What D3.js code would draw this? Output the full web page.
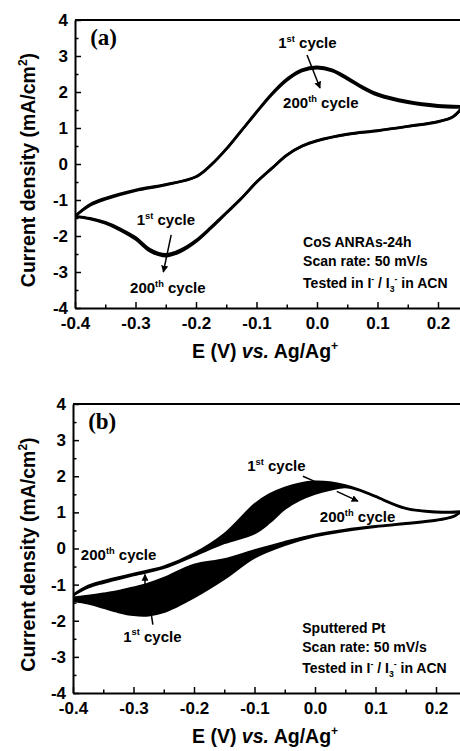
<!DOCTYPE html>
<html lang="en">
<head>
<meta charset="UTF-8" />
<title>CV 200 cycles</title>
<style>
  * { margin: 0; padding: 0; }
  body { background: #fff; }
  svg text { font-family: "Liberation Sans", Arial, sans-serif; font-weight: bold; fill: #000; }
</style>
</head>
<body>
<svg id="chart" width="460" height="751"></svg>
<script src="https://d3js.org/d3.v7.min.js"></script>
<script>
// ---- panel (a): CoS ANRAs-24h ----
const xA_ox = [-0.4, -0.375, -0.35, -0.3, -0.25, -0.2, -0.175, -0.15, -0.125, -0.1, -0.075, -0.05, -0.025, 0.0, 0.025, 0.05, 0.075, 0.1, 0.15, 0.2, 0.24];
const yA_ox1 = [-1.45, -1.12, -0.95, -0.72, -0.57, -0.35, -0.02, 0.42, 0.93, 1.45, 1.95, 2.36, 2.62, 2.7, 2.62, 2.4, 2.15, 1.95, 1.74, 1.63, 1.6];
const yA_ox200 = [-1.45, -1.15, -0.98, -0.74, -0.58, -0.36, -0.03, 0.41, 0.92, 1.43, 1.92, 2.32, 2.58, 2.66, 2.58, 2.36, 2.11, 1.91, 1.7, 1.59, 1.57];
const xA_red = [0.24, 0.225, 0.2, 0.15, 0.1, 0.05, 0.0, -0.025, -0.05, -0.075, -0.1, -0.125, -0.15, -0.175, -0.2, -0.225, -0.25, -0.275, -0.3, -0.325, -0.35, -0.375, -0.4];
const yA_red1 = [1.58, 1.32, 1.18, 1.05, 0.93, 0.83, 0.65, 0.5, 0.25, -0.12, -0.5, -0.95, -1.35, -1.75, -2.12, -2.38, -2.51, -2.38, -2.04, -1.8, -1.62, -1.51, -1.45];
const yA_red200 = [1.56, 1.31, 1.17, 1.04, 0.92, 0.82, 0.64, 0.49, 0.24, -0.13, -0.51, -0.96, -1.37, -1.78, -2.16, -2.43, -2.56, -2.43, -2.09, -1.84, -1.65, -1.53, -1.46];

// ---- panel (b): sputtered Pt ----
const xB_ox = [-0.4, -0.375, -0.35, -0.3, -0.25, -0.2, -0.15, -0.1, -0.075, -0.05, -0.025, 0.0, 0.025, 0.05, 0.075, 0.1, 0.15, 0.2, 0.24];
const yB_ox1 = [-1.28, -1.03, -0.9, -0.7, -0.5, -0.14, 0.4, 1.22, 1.5, 1.68, 1.8, 1.85, 1.83, 1.75, 1.62, 1.45, 1.12, 1.02, 1.03];
const yB_ox200 = [-1.3, -1.08, -0.95, -0.74, -0.54, -0.2, 0.15, 0.42, 0.72, 1.1, 1.35, 1.52, 1.63, 1.7, 1.6, 1.43, 1.1, 1.0, 1.0];
const xB_red = [0.24, 0.228, 0.2, 0.15, 0.1, 0.05, 0.0, -0.05, -0.1, -0.15, -0.2, -0.25, -0.275, -0.3, -0.325, -0.35, -0.375, -0.4];
const yB_red200 = [1.0, 0.89, 0.79, 0.7, 0.62, 0.52, 0.38, 0.18, -0.05, -0.3, -0.45, -0.82, -0.97, -1.08, -1.18, -1.25, -1.31, -1.36];
const yB_red1 = [1.0, 0.87, 0.77, 0.68, 0.6, 0.49, 0.34, 0.1, -0.25, -0.84, -1.35, -1.76, -1.85, -1.84, -1.76, -1.64, -1.52, -1.45];

const xTicks = [-0.4, -0.3, -0.2, -0.1, 0.0, 0.1, 0.2];
const xMinor = [-0.35, -0.25, -0.15, -0.05, 0.05, 0.15];
const yTicks = [-4, -3, -2, -1, 0, 1, 2, 3, 4];
const yMinor = [-3.5, -2.5, -1.5, -0.5, 0.5, 1.5, 2.5, 3.5];

const svg = d3.select("#chart");

const defs = svg.append("defs");
defs.append("marker")
  .attr("id", "arrow")
  .attr("viewBox", "0 0 10 10")
  .attr("refX", 9).attr("refY", 5)
  .attr("markerWidth", 7).attr("markerHeight", 7)
  .attr("markerUnits", "userSpaceOnUse")
  .attr("orient", "auto")
  .append("path").attr("d", "M0,0L10,5L0,10z").attr("fill", "#000");

// text with <tspan> pieces: [string, "sup"|"sub"|"it"|null]
function richText(g, x, y, parts, size) {
  const t = g.append("text").attr("x", x).attr("y", y).attr("font-size", size);
  let shift = 0;
  parts.forEach(([s, kind]) => {
    const sp = t.append("tspan").text(s);
    let target = 0;
    if (kind === "sup") { target = -size * 0.42; sp.attr("font-size", size * 0.62); }
    if (kind === "sub") { target = size * 0.3; sp.attr("font-size", size * 0.62); }
    if (kind === "it") sp.attr("font-style", "italic");
    sp.attr("dy", target - shift);
    shift = target;
  });
  return t;
}

function panel(cfg) {
  const x = d3.scaleLinear().domain([-0.4, 0.24]).range([cfg.left, cfg.left + 0.64 * 605]);
  const y = d3.scaleLinear().domain([-4, 4]).range([cfg.bottom, cfg.top]);
  const g = svg.append("g");

  const clipId = "clip" + cfg.id;
  defs.append("clipPath").attr("id", clipId)
    .append("rect").attr("x", cfg.left).attr("y", cfg.top)
    .attr("width", 460 - cfg.left).attr("height", cfg.bottom - cfg.top);
  const plot = g.append("g").attr("clip-path", `url(#${clipId})`);

  const curve = d3.curveCatmullRom.alpha(0.5);
  const lineOf = (xs, ys) => d3.line().curve(curve)
    .x((d, i) => x(xs[i])).y((d, i) => y(ys[i]))(xs);
  const areaOf = (xs, a, b) => d3.area().curve(curve)
    .x((d, i) => x(xs[i])).y0((d, i) => y(a[i])).y1((d, i) => y(b[i]))(xs);

  if (cfg.band) {
    cfg.branches.forEach(br => {
      plot.append("path").attr("d", areaOf(br.xs, br.y1, br.y200)).attr("fill", "#000");
    });
  }
  cfg.branches.forEach(br => {
    [br.y1, br.y200].forEach(ys => {
      plot.append("path").attr("d", lineOf(br.xs, ys))
        .attr("fill", "none").attr("stroke", "#000").attr("stroke-width", cfg.lw);
    });
  });

  // axes, ticks pointing inward
  const xAxis = g.append("g").attr("transform", `translate(0,${cfg.bottom})`)
    .call(d3.axisBottom(x).tickValues(xTicks).tickSizeInner(-6).tickSizeOuter(0)
      .tickPadding(9).tickFormat(d => d.toFixed(1)));
  g.append("g").attr("transform", `translate(0,${cfg.bottom})`)
    .call(d3.axisBottom(x).tickValues(xMinor).tickSizeInner(-3.5).tickSizeOuter(0).tickFormat(""))
    .select(".domain").remove();
  const yAxis = g.append("g").attr("transform", `translate(${cfg.left},0)`)
    .call(d3.axisLeft(y).tickValues(yTicks).tickSizeInner(-6).tickSizeOuter(0)
      .tickPadding(7).tickFormat(d => String(d)));
  g.append("g").attr("transform", `translate(${cfg.left},0)`)
    .call(d3.axisLeft(y).tickValues(yMinor).tickSizeInner(-3.5).tickSizeOuter(0).tickFormat(""))
    .select(".domain").remove();
  g.selectAll(".domain").attr("stroke-width", 2);
  g.selectAll(".tick line").attr("stroke-width", 1.5);
  [xAxis, yAxis].forEach(a => a.selectAll("text")
    .attr("font-size", 17).attr("font-family", null).attr("fill", "#000"));

  // top frame line (right side runs past the window)
  g.append("line")
    .attr("x1", cfg.left).attr("x2", x(0.24) + 2)
    .attr("y1", cfg.top).attr("y2", cfg.top)
    .attr("stroke", "#000").attr("stroke-width", 2);

  // axis titles
  richText(g, 0, 0, [["Current density (mA/cm", null], ["2", "sup"], [")", null]], 19.5)
    .attr("text-anchor", "middle")
    .attr("transform", `translate(35,${(cfg.top + cfg.bottom) / 2 + 6}) rotate(-90)`);
  richText(g, 192, cfg.bottom + 50, [["E (V) ", null], ["vs.", "it"], [" Ag/Ag", null], ["+", "sup"]], 19.5);

  // panel letter
  g.append("text").attr("x", x(-0.375)).attr("y", y(3.3))
    .style("font-family", "'Liberation Serif', 'Times New Roman', serif")
    .attr("font-size", 23).text(cfg.label);

  // condition notes
  cfg.notes.forEach((parts, i) => {
    richText(g, x(cfg.noteX), y(cfg.noteY[i]), parts, 14);
  });

  // cycle annotations
  cfg.marks.forEach(m => {
    richText(g, x(m.tx), y(m.ty), [[m.n, null], [m.sfx, "sup"], [" cycle", null]], 15);
    if (!m.a) return;
    const l = g.append("line")
      .attr("x1", x(m.a[0])).attr("y1", y(m.a[1]))
      .attr("x2", x(m.a[2])).attr("y2", y(m.a[3]))
      .attr("stroke", "#000").attr("stroke-width", 1.5);
    if (m.head) l.attr("marker-end", "url(#arrow)");
  });
}

const testedIn = [["Tested in I", null], ["-", "sup"], [" / I", null], ["3", "sub"], ["-", "sup"], [" in ACN", null]];

panel({
  id: "a", label: "(a)", left: 75, top: 20, bottom: 308, lw: 2.6, band: false,
  branches: [
    { xs: xA_ox, y1: yA_ox1, y200: yA_ox200 },
    { xs: xA_red, y1: yA_red1, y200: yA_red200 }
  ],
  noteX: -0.023, noteY: [-2.31, -2.83, -3.44],
  notes: [[["CoS ANRAs-24h", null]], [["Scan rate: 50 mV/s", null]], testedIn],
  marks: [
    { n: "1", sfx: "st", tx: -0.064, ty: 3.22, a: [-0.0165, 3.03, 0.005, 2.11], head: true },
    { n: "200", sfx: "th", tx: -0.056, ty: 1.56, a: null },
    { n: "1", sfx: "st", tx: -0.298, ty: -1.69, a: [-0.241, -1.97, -0.254, -3.0], head: true },
    { n: "200", sfx: "th", tx: -0.309, ty: -3.58, a: null }
  ]
});

panel({
  id: "b", label: "(b)", left: 73, top: 404, bottom: 693, lw: 2.2, band: true,
  branches: [
    { xs: xB_ox, y1: yB_ox1, y200: yB_ox200 },
    { xs: xB_red, y1: yB_red1, y200: yB_red200 }
  ],
  noteX: -0.021, noteY: [-2.33, -2.86, -3.44],
  notes: [[["Sputtered Pt", null]], [["Scan rate: 50 mV/s", null]], testedIn],
  marks: [
    { n: "1", sfx: "st", tx: -0.112, ty: 2.14, a: [-0.02, 2.0, 0.003, 1.83], head: false },
    { n: "200", sfx: "th", tx: 0.008, ty: 0.72, a: [0.036, 1.58, 0.071, 1.31], head: true },
    { n: "200", sfx: "th", tx: -0.387, ty: -0.33, a: [-0.281, -1.06, -0.281, -0.72], head: true },
    { n: "1", sfx: "st", tx: -0.317, ty: -2.58, a: [-0.276, -1.22, -0.268, -2.11], head: false }
  ]
});
</script>
</body>
</html>
